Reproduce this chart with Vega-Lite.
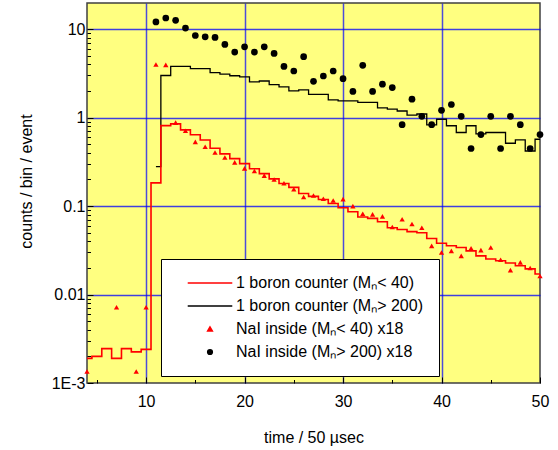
{
  "$schema": "https://vega.github.io/schema/vega-lite/v6.json",
  "width": 453,
  "height": 380,
  "autosize": "none",
  "padding": {"left": 87, "top": 3, "right": 18, "bottom": 67},
  "background": "white",
  "config": {
    "font": "Liberation Sans",
    "view": {"fill": "#ffff80", "stroke": "#404040", "strokeWidth": 1.5},
    "axis": {"domain": false, "labelFontSize": 16, "titleFontSize": 16, "titleFontWeight": "normal", "labelColor": "black", "titleColor": "black", "tickColor": "black", "gridColor": "#0000ff", "gridWidth": 1.5, "labelOverlap": false, "labelFlush": false, "labelFont": "Liberation Sans", "titleFont": "Liberation Sans"}
  },
  "data": {"values": [
    {"series": "1 boron counter (Mₙ< 40)", "x": 4, "y": 0.0019},
    {"series": "1 boron counter (Mₙ< 40)", "x": 5, "y": 0.0020},
    {"series": "1 boron counter (Mₙ< 40)", "x": 6, "y": 0.00245},
    {"series": "1 boron counter (Mₙ< 40)", "x": 7, "y": 0.0019},
    {"series": "1 boron counter (Mₙ< 40)", "x": 8, "y": 0.00245},
    {"series": "1 boron counter (Mₙ< 40)", "x": 9, "y": 0.00225},
    {"series": "1 boron counter (Mₙ< 40)", "x": 10, "y": 0.0024},
    {"series": "1 boron counter (Mₙ< 40)", "x": 11, "y": 0.183},
    {"series": "1 boron counter (Mₙ< 40)", "x": 12, "y": 0.813},
    {"series": "1 boron counter (Mₙ< 40)", "x": 13, "y": 0.85},
    {"series": "1 boron counter (Mₙ< 40)", "x": 14, "y": 0.728},
    {"series": "1 boron counter (Mₙ< 40)", "x": 15, "y": 0.64},
    {"series": "1 boron counter (Mₙ< 40)", "x": 16, "y": 0.56},
    {"series": "1 boron counter (Mₙ< 40)", "x": 17, "y": 0.452},
    {"series": "1 boron counter (Mₙ< 40)", "x": 18, "y": 0.39},
    {"series": "1 boron counter (Mₙ< 40)", "x": 19, "y": 0.344},
    {"series": "1 boron counter (Mₙ< 40)", "x": 20, "y": 0.302},
    {"series": "1 boron counter (Mₙ< 40)", "x": 21, "y": 0.265},
    {"series": "1 boron counter (Mₙ< 40)", "x": 22, "y": 0.233},
    {"series": "1 boron counter (Mₙ< 40)", "x": 23, "y": 0.203},
    {"series": "1 boron counter (Mₙ< 40)", "x": 24, "y": 0.18},
    {"series": "1 boron counter (Mₙ< 40)", "x": 25, "y": 0.163},
    {"series": "1 boron counter (Mₙ< 40)", "x": 26, "y": 0.139},
    {"series": "1 boron counter (Mₙ< 40)", "x": 27, "y": 0.129},
    {"series": "1 boron counter (Mₙ< 40)", "x": 28, "y": 0.119},
    {"series": "1 boron counter (Mₙ< 40)", "x": 29, "y": 0.107},
    {"series": "1 boron counter (Mₙ< 40)", "x": 30, "y": 0.0957},
    {"series": "1 boron counter (Mₙ< 40)", "x": 31, "y": 0.0863},
    {"series": "1 boron counter (Mₙ< 40)", "x": 32, "y": 0.0752},
    {"series": "1 boron counter (Mₙ< 40)", "x": 33, "y": 0.0727},
    {"series": "1 boron counter (Mₙ< 40)", "x": 34, "y": 0.0666},
    {"series": "1 boron counter (Mₙ< 40)", "x": 35, "y": 0.057},
    {"series": "1 boron counter (Mₙ< 40)", "x": 36, "y": 0.0545},
    {"series": "1 boron counter (Mₙ< 40)", "x": 37, "y": 0.0515},
    {"series": "1 boron counter (Mₙ< 40)", "x": 38, "y": 0.050},
    {"series": "1 boron counter (Mₙ< 40)", "x": 39, "y": 0.043},
    {"series": "1 boron counter (Mₙ< 40)", "x": 40, "y": 0.0381},
    {"series": "1 boron counter (Mₙ< 40)", "x": 41, "y": 0.0356},
    {"series": "1 boron counter (Mₙ< 40)", "x": 42, "y": 0.034},
    {"series": "1 boron counter (Mₙ< 40)", "x": 43, "y": 0.0312},
    {"series": "1 boron counter (Mₙ< 40)", "x": 44, "y": 0.0274},
    {"series": "1 boron counter (Mₙ< 40)", "x": 45, "y": 0.0252},
    {"series": "1 boron counter (Mₙ< 40)", "x": 46, "y": 0.0241},
    {"series": "1 boron counter (Mₙ< 40)", "x": 47, "y": 0.0227},
    {"series": "1 boron counter (Mₙ< 40)", "x": 48, "y": 0.0212},
    {"series": "1 boron counter (Mₙ< 40)", "x": 49, "y": 0.0195},
    {"series": "1 boron counter (Mₙ< 40)", "x": 50, "y": 0.0171},
    {"series": "1 boron counter (Mₙ> 200)", "x": 11, "y": 0.28},
    {"series": "1 boron counter (Mₙ> 200)", "x": 12, "y": 3.0},
    {"series": "1 boron counter (Mₙ> 200)", "x": 13, "y": 3.8},
    {"series": "1 boron counter (Mₙ> 200)", "x": 14, "y": 3.8},
    {"series": "1 boron counter (Mₙ> 200)", "x": 15, "y": 3.58},
    {"series": "1 boron counter (Mₙ> 200)", "x": 16, "y": 3.58},
    {"series": "1 boron counter (Mₙ> 200)", "x": 17, "y": 3.23},
    {"series": "1 boron counter (Mₙ> 200)", "x": 18, "y": 3.1},
    {"series": "1 boron counter (Mₙ> 200)", "x": 19, "y": 2.98},
    {"series": "1 boron counter (Mₙ> 200)", "x": 20, "y": 2.89},
    {"series": "1 boron counter (Mₙ> 200)", "x": 21, "y": 2.54},
    {"series": "1 boron counter (Mₙ> 200)", "x": 22, "y": 2.6},
    {"series": "1 boron counter (Mₙ> 200)", "x": 23, "y": 2.37},
    {"series": "1 boron counter (Mₙ> 200)", "x": 24, "y": 2.23},
    {"series": "1 boron counter (Mₙ> 200)", "x": 25, "y": 2.01},
    {"series": "1 boron counter (Mₙ> 200)", "x": 26, "y": 2.06},
    {"series": "1 boron counter (Mₙ> 200)", "x": 27, "y": 1.83},
    {"series": "1 boron counter (Mₙ> 200)", "x": 28, "y": 1.83},
    {"series": "1 boron counter (Mₙ> 200)", "x": 29, "y": 1.59},
    {"series": "1 boron counter (Mₙ> 200)", "x": 30, "y": 1.55},
    {"series": "1 boron counter (Mₙ> 200)", "x": 31, "y": 1.55},
    {"series": "1 boron counter (Mₙ> 200)", "x": 32, "y": 1.49},
    {"series": "1 boron counter (Mₙ> 200)", "x": 33, "y": 1.49},
    {"series": "1 boron counter (Mₙ> 200)", "x": 34, "y": 1.29},
    {"series": "1 boron counter (Mₙ> 200)", "x": 35, "y": 1.25},
    {"series": "1 boron counter (Mₙ> 200)", "x": 36, "y": 1.19},
    {"series": "1 boron counter (Mₙ> 200)", "x": 37, "y": 1.07},
    {"series": "1 boron counter (Mₙ> 200)", "x": 38, "y": 1.10},
    {"series": "1 boron counter (Mₙ> 200)", "x": 39, "y": 0.83},
    {"series": "1 boron counter (Mₙ> 200)", "x": 40, "y": 0.96},
    {"series": "1 boron counter (Mₙ> 200)", "x": 41, "y": 0.81},
    {"series": "1 boron counter (Mₙ> 200)", "x": 42, "y": 0.68},
    {"series": "1 boron counter (Mₙ> 200)", "x": 43, "y": 0.81},
    {"series": "1 boron counter (Mₙ> 200)", "x": 44, "y": 0.656},
    {"series": "1 boron counter (Mₙ> 200)", "x": 45, "y": 0.68},
    {"series": "1 boron counter (Mₙ> 200)", "x": 46, "y": 0.68},
    {"series": "1 boron counter (Mₙ> 200)", "x": 47, "y": 0.514},
    {"series": "1 boron counter (Mₙ> 200)", "x": 48, "y": 0.56},
    {"series": "1 boron counter (Mₙ> 200)", "x": 49, "y": 0.42},
    {"series": "1 boron counter (Mₙ> 200)", "x": 50, "y": 0.57},
    {"series": "NaI inside (Mₙ< 40) x18", "x": 4, "y": 0.00135},
    {"series": "NaI inside (Mₙ< 40) x18", "x": 7, "y": 0.0072},
    {"series": "NaI inside (Mₙ< 40) x18", "x": 9, "y": 0.00135},
    {"series": "NaI inside (Mₙ< 40) x18", "x": 10, "y": 0.0072},
    {"series": "NaI inside (Mₙ< 40) x18", "x": 11, "y": 4.0},
    {"series": "NaI inside (Mₙ< 40) x18", "x": 12, "y": 3.95},
    {"series": "NaI inside (Mₙ< 40) x18", "x": 13, "y": 0.879},
    {"series": "NaI inside (Mₙ< 40) x18", "x": 14, "y": 0.71},
    {"series": "NaI inside (Mₙ< 40) x18", "x": 15, "y": 0.533},
    {"series": "NaI inside (Mₙ< 40) x18", "x": 16, "y": 0.469},
    {"series": "NaI inside (Mₙ< 40) x18", "x": 17, "y": 0.404},
    {"series": "NaI inside (Mₙ< 40) x18", "x": 18, "y": 0.355},
    {"series": "NaI inside (Mₙ< 40) x18", "x": 19, "y": 0.312},
    {"series": "NaI inside (Mₙ< 40) x18", "x": 20, "y": 0.267},
    {"series": "NaI inside (Mₙ< 40) x18", "x": 21, "y": 0.249},
    {"series": "NaI inside (Mₙ< 40) x18", "x": 22, "y": 0.221},
    {"series": "NaI inside (Mₙ< 40) x18", "x": 23, "y": 0.2},
    {"series": "NaI inside (Mₙ< 40) x18", "x": 24, "y": 0.181},
    {"series": "NaI inside (Mₙ< 40) x18", "x": 25, "y": 0.155},
    {"series": "NaI inside (Mₙ< 40) x18", "x": 26, "y": 0.127},
    {"series": "NaI inside (Mₙ< 40) x18", "x": 27, "y": 0.132},
    {"series": "NaI inside (Mₙ< 40) x18", "x": 28, "y": 0.121},
    {"series": "NaI inside (Mₙ< 40) x18", "x": 29, "y": 0.116},
    {"series": "NaI inside (Mₙ< 40) x18", "x": 30, "y": 0.12},
    {"series": "NaI inside (Mₙ< 40) x18", "x": 31, "y": 0.1},
    {"series": "NaI inside (Mₙ< 40) x18", "x": 32, "y": 0.082},
    {"series": "NaI inside (Mₙ< 40) x18", "x": 33, "y": 0.0806},
    {"series": "NaI inside (Mₙ< 40) x18", "x": 34, "y": 0.0765},
    {"series": "NaI inside (Mₙ< 40) x18", "x": 35, "y": 0.058},
    {"series": "NaI inside (Mₙ< 40) x18", "x": 36, "y": 0.0709},
    {"series": "NaI inside (Mₙ< 40) x18", "x": 37, "y": 0.0628},
    {"series": "NaI inside (Mₙ< 40) x18", "x": 38, "y": 0.057},
    {"series": "NaI inside (Mₙ< 40) x18", "x": 39, "y": 0.0355},
    {"series": "NaI inside (Mₙ< 40) x18", "x": 40, "y": 0.0299},
    {"series": "NaI inside (Mₙ< 40) x18", "x": 41, "y": 0.0312},
    {"series": "NaI inside (Mₙ< 40) x18", "x": 42, "y": 0.0274},
    {"series": "NaI inside (Mₙ< 40) x18", "x": 43, "y": 0.0334},
    {"series": "NaI inside (Mₙ< 40) x18", "x": 44, "y": 0.0318},
    {"series": "NaI inside (Mₙ< 40) x18", "x": 45, "y": 0.034},
    {"series": "NaI inside (Mₙ< 40) x18", "x": 46, "y": 0.0247},
    {"series": "NaI inside (Mₙ< 40) x18", "x": 47, "y": 0.0189},
    {"series": "NaI inside (Mₙ< 40) x18", "x": 48, "y": 0.0231},
    {"series": "NaI inside (Mₙ< 40) x18", "x": 49, "y": 0.02},
    {"series": "NaI inside (Mₙ< 40) x18", "x": 50, "y": 0.0162},
    {"series": "NaI inside (Mₙ> 200) x18", "x": 11, "y": 12.1},
    {"series": "NaI inside (Mₙ> 200) x18", "x": 12, "y": 13.4},
    {"series": "NaI inside (Mₙ> 200) x18", "x": 13, "y": 12.6},
    {"series": "NaI inside (Mₙ> 200) x18", "x": 14, "y": 10.3},
    {"series": "NaI inside (Mₙ> 200) x18", "x": 15, "y": 8.5},
    {"series": "NaI inside (Mₙ> 200) x18", "x": 16, "y": 8.2},
    {"series": "NaI inside (Mₙ> 200) x18", "x": 17, "y": 8.07},
    {"series": "NaI inside (Mₙ> 200) x18", "x": 18, "y": 6.73},
    {"series": "NaI inside (Mₙ> 200) x18", "x": 19, "y": 5.52},
    {"series": "NaI inside (Mₙ> 200) x18", "x": 20, "y": 6.33},
    {"series": "NaI inside (Mₙ> 200) x18", "x": 21, "y": 5.52},
    {"series": "NaI inside (Mₙ> 200) x18", "x": 22, "y": 6.33},
    {"series": "NaI inside (Mₙ> 200) x18", "x": 23, "y": 5.33},
    {"series": "NaI inside (Mₙ> 200) x18", "x": 24, "y": 3.8},
    {"series": "NaI inside (Mₙ> 200) x18", "x": 25, "y": 3.37},
    {"series": "NaI inside (Mₙ> 200) x18", "x": 26, "y": 4.9},
    {"series": "NaI inside (Mₙ> 200) x18", "x": 27, "y": 2.58},
    {"series": "NaI inside (Mₙ> 200) x18", "x": 28, "y": 2.96},
    {"series": "NaI inside (Mₙ> 200) x18", "x": 29, "y": 3.37},
    {"series": "NaI inside (Mₙ> 200) x18", "x": 30, "y": 2.76},
    {"series": "NaI inside (Mₙ> 200) x18", "x": 31, "y": 1.98},
    {"series": "NaI inside (Mₙ> 200) x18", "x": 32, "y": 3.91},
    {"series": "NaI inside (Mₙ> 200) x18", "x": 33, "y": 1.98},
    {"series": "NaI inside (Mₙ> 200) x18", "x": 34, "y": 2.39},
    {"series": "NaI inside (Mₙ> 200) x18", "x": 35, "y": 2.19},
    {"series": "NaI inside (Mₙ> 200) x18", "x": 36, "y": 0.834},
    {"series": "NaI inside (Mₙ> 200) x18", "x": 37, "y": 1.62},
    {"series": "NaI inside (Mₙ> 200) x18", "x": 38, "y": 1.035},
    {"series": "NaI inside (Mₙ> 200) x18", "x": 39, "y": 0.834},
    {"series": "NaI inside (Mₙ> 200) x18", "x": 40, "y": 1.21},
    {"series": "NaI inside (Mₙ> 200) x18", "x": 41, "y": 1.41},
    {"series": "NaI inside (Mₙ> 200) x18", "x": 42, "y": 1.035},
    {"series": "NaI inside (Mₙ> 200) x18", "x": 43, "y": 0.448},
    {"series": "NaI inside (Mₙ> 200) x18", "x": 44, "y": 0.644},
    {"series": "NaI inside (Mₙ> 200) x18", "x": 45, "y": 1.035},
    {"series": "NaI inside (Mₙ> 200) x18", "x": 46, "y": 0.448},
    {"series": "NaI inside (Mₙ> 200) x18", "x": 47, "y": 1.035},
    {"series": "NaI inside (Mₙ> 200) x18", "x": 48, "y": 0.834},
    {"series": "NaI inside (Mₙ> 200) x18", "x": 49, "y": 0.448},
    {"series": "NaI inside (Mₙ> 200) x18", "x": 50, "y": 0.644}
  ]},
  "encoding": {
    "x": {"field": "x", "type": "quantitative", "scale": {"domain": [4, 50], "nice": false, "zero": false},
      "axis": {"title": "time / 50 µsec", "values": [5, 10, 15, 20, 25, 30, 35, 40, 45, 50],
        "labelExpr": "datum.value % 10 == 0 ? datum.label : ''",
        "grid": true,
        "gridOpacity": {"condition": {"test": "datum.value % 10 != 0 || datum.value == 50", "value": 0}, "value": 0.7},
        "tickSize": {"condition": {"test": "datum.value % 10 == 0", "value": -6}, "value": -3.5},
        "labelPadding": 16, "titleX": 226.5, "titleY": 54, "titleBaseline": "middle", "titleAnchor": null}},
    "y": {"field": "y", "type": "quantitative", "scale": {"type": "log", "domain": [0.001, 19.8], "nice": false},
      "axis": {"title": "counts / bin / event",
        "values": [0.001, 0.002, 0.003, 0.004, 0.005, 0.006, 0.007, 0.008, 0.009, 0.01, 0.02, 0.03, 0.04, 0.05, 0.06, 0.07, 0.08, 0.09, 0.1, 0.2, 0.3, 0.4, 0.5, 0.6, 0.7, 0.8, 0.9, 1, 2, 3, 4, 5, 6, 7, 8, 9, 10],
        "labelExpr": "datum.value == 0.001 ? '1E-3' : datum.value == 0.01 ? '0.01' : datum.value == 0.1 ? '0.1' : datum.value == 1 ? '1' : datum.value == 10 ? '10' : ''",
        "grid": true,
        "gridOpacity": {"condition": {"test": "indexof([0.01, 0.1, 1, 10], datum.value) < 0", "value": 0}, "value": 0.75},
        "tickSize": {"condition": {"test": "indexof([0.001, 0.01, 0.1, 1, 10], datum.value) >= 0", "value": -6}, "value": -3.5},
        "labelPadding": 8, "titleX": -61, "titleY": 178, "titleBaseline": "middle", "titleAngle": -90}}
  },
  "layer": [
    {"transform": [{"filter": {"field": "series", "equal": "1 boron counter (Mₙ> 200)"}}],
     "mark": {"type": "line", "interpolate": "step", "strokeWidth": 1.3},
     "encoding": {"color": {"field": "series", "type": "nominal",
       "scale": {"domain": ["1 boron counter (Mₙ< 40)", "1 boron counter (Mₙ> 200)", "NaI inside (Mₙ< 40) x18", "NaI inside (Mₙ> 200) x18"], "range": ["#ff0000", "#000000", "#ff0000", "#000000"]},
       "legend": {"title": null, "orient": "none", "legendX": 74, "legendY": 256, "fillColor": "white", "strokeColor": "black", "padding": 16, "symbolOffset": 25, "labelOffset": 18, "rowPadding": 7, "labelFontSize": 16, "labelFont": "Liberation Sans", "labelColor": "black", "labelLimit": 400, "symbolSize": 22, "symbolStrokeWidth": 1.5,
         "encode": {"symbols": {"update": {"stroke": {"scale": "color", "field": "value"}, "fill": {"scale": "color", "field": "value"}, "strokeWidth": {"value": 1.5}, "opacity": {"value": 1}}}}}}}},
    {"transform": [{"filter": {"field": "series", "equal": "1 boron counter (Mₙ< 40)"}}],
     "mark": {"type": "line", "interpolate": "step", "strokeWidth": 1.6},
     "encoding": {"color": {"field": "series", "type": "nominal"}}},
    {"transform": [{"filter": {"field": "series", "equal": "NaI inside (Mₙ< 40) x18"}}],
     "mark": {"type": "point", "filled": true, "size": 28, "opacity": 1},
     "encoding": {"color": {"field": "series", "type": "nominal"},
       "shape": {"field": "series", "type": "nominal",
         "scale": {"domain": ["1 boron counter (Mₙ< 40)", "1 boron counter (Mₙ> 200)", "NaI inside (Mₙ< 40) x18", "NaI inside (Mₙ> 200) x18"], "range": ["M-9.5,0H9.5", "M-9.5,0H9.5", "triangle-up", "circle"]}}}},
    {"transform": [{"filter": {"field": "series", "equal": "NaI inside (Mₙ> 200) x18"}}],
     "mark": {"type": "point", "filled": true, "size": 45, "opacity": 1},
     "encoding": {"color": {"field": "series", "type": "nominal"},
       "shape": {"field": "series", "type": "nominal"}}}
  ]
}
